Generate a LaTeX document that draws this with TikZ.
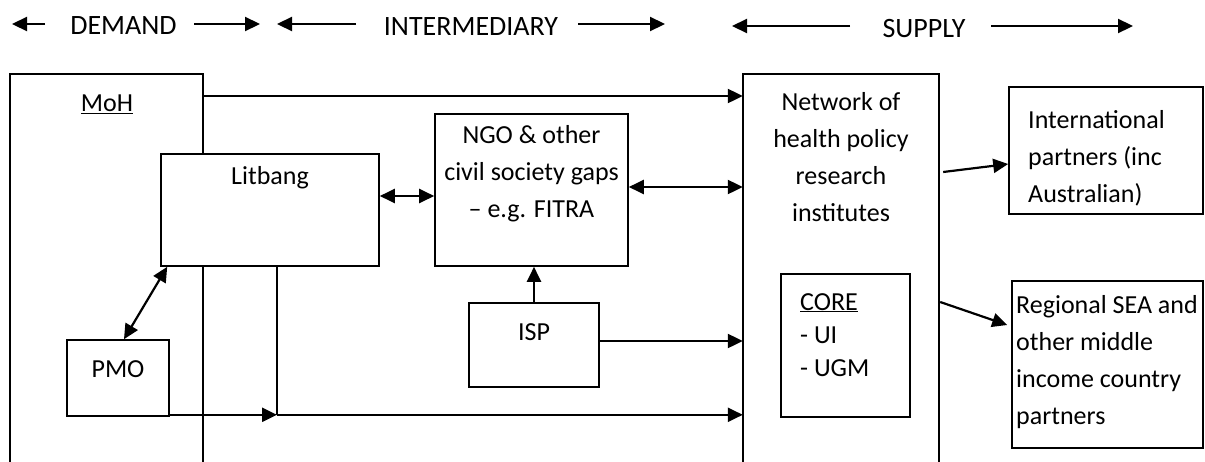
\documentclass[tikz,border=0pt]{standalone}
\usepackage{fontspec}
\setmainfont{Carlito}
\usetikzlibrary{arrows.meta,calc}
\begin{document}
\begin{tikzpicture}[x=1pt,y=-1pt,
  box/.style={draw, line width=1.6pt, rectangle, inner sep=0pt},
  openbox/.style={rectangle, inner sep=0pt, draw=none},
  txt/.style={inner sep=0pt, font=\fontsize{26}{37}\selectfont},
  head/.style={inner sep=0pt, font=\fontsize{28}{34}\selectfont},
  arr/.style={line width=2.2pt, -{Triangle[length=15pt,width=14pt]}},
  dbl/.style={line width=2.2pt, {Triangle[length=15pt,width=14pt]}-{Triangle[length=15pt,width=14pt]}},
  edge/.style={line width=1.6pt},
]
\useasboundingbox[fill=white] (0,0) rectangle (1205,461);

% header
\node[head] (dem) at (123.5,26) {DEMAND};
\node[head] (inter) at (471,27) {INTERMEDIARY};
\node[head] (sup) at (924,29) {SUPPLY};
\coordinate (d1) at (45,24); \coordinate (d2) at (12,24);
\coordinate (d3) at (194,24); \coordinate (d4) at (260,24);
\coordinate (i1) at (356,24); \coordinate (i2) at (277,24);
\coordinate (i3) at (578,24); \coordinate (i4) at (665,24);
\coordinate (s1) at (850,26); \coordinate (s2) at (732,26);
\coordinate (s3) at (991,26); \coordinate (s4) at (1133,26);
\draw[arr] (d1) -- (d2);
\draw[arr] (d3) -- (d4);
\draw[arr] (i1) -- (i2);
\draw[arr] (i3) -- (i4);
\draw[arr] (s1) -- (s2);
\draw[arr] (s3) -- (s4);

% open boxes
\node[openbox, minimum width=193pt, minimum height=390pt] (moh) at (106.5,269) {};
\draw[edge] (moh.south west) -- (moh.north west) -- (moh.north east) -- (moh.south east);
\node[openbox, minimum width=196pt, minimum height=390pt] (net) at (841,269) {};
\draw[edge] (net.south west) -- (net.north west) -- (net.north east) -- (net.south east);

% boxes
\node[box, fill=white, minimum width=218pt, minimum height=112pt] (litbang) at (270,210) {};
\node[box, minimum width=193pt, minimum height=152pt] (ngo) at (531.5,190) {};
\node[box, minimum width=130pt, minimum height=84pt] (isp) at (534,345) {};
\node[box, minimum width=102pt, minimum height=76pt] (pmo) at (118,378) {};
\node[box, minimum width=129pt, minimum height=143pt] (core) at (845.5,345.5) {};
\node[box, minimum width=194pt, minimum height=127pt] (intl) at (1106,150.5) {};
\node[box, minimum width=191pt, minimum height=167pt] (reg) at (1107.5,364.5) {};

% texts
\node[txt, anchor=north] (mohtxt) at (107,95) {\underline{MoH}};
\node[txt, anchor=north] (littxt) at (270,166) {Litbang};
\node[txt, anchor=north, align=center] (ngotxt) at (531.5,125) {NGO \& other\\civil society gaps\\– e.g. FITRA};
\node[txt, anchor=north] (isptxt) at (534,323) {ISP};
\node[txt, anchor=north] (pmotxt) at (118,360) {PMO};
\node[txt, anchor=north, align=center] (nettxt) at (841,92) {Network of\\health policy\\research\\institutes};
\node[txt, anchor=north west, align=left, font=\fontsize{26}{33}\selectfont] (coretxt) at (800,293) {\underline{CORE}\\- UI\\- UGM};
\node[txt, anchor=north west, align=left] (intltxt) at (1028,110) {International\\partners (inc\\Australian)};
\node[txt, anchor=north west, align=left] (regtxt) at (1016,295) {Regional SEA and\\other middle\\income country\\partners};

% connectors
\draw[arr] (moh.north east |- 0,96) -- (net.west |- 0,96);
\draw[dbl] (litbang.east |- 0,196) -- (ngo.west |- 0,196);
\draw[dbl] (ngo.east |- 0,187) -- (net.west |- 0,187);
\draw[arr] (isp.north) -- (isp.north |- ngo.south);
\draw[arr] (isp.east |- 0,341) -- (net.west |- 0,341);
\draw[dbl] ($(pmo.north)+(6,0)$) -- ($(litbang.south west)+(7,0)$);
\coordinate (j) at ($(litbang.south)+(7,148)$);
\draw[edge] ($(litbang.south)+(7,0)$) -- (j);
\draw[arr] (pmo.south east |- j) -- (j);
\draw[arr] (j) -- (net.west |- j);
\draw[arr] ($(net.east |- 0,172)+(4,0)$) -- (intl.west |- 0,164);
\draw[arr] ($(net.east |- 0,302)+(1,0)$) -- ($(reg.west |- 0,325)+(-4,0)$);
\end{tikzpicture}
\end{document}
